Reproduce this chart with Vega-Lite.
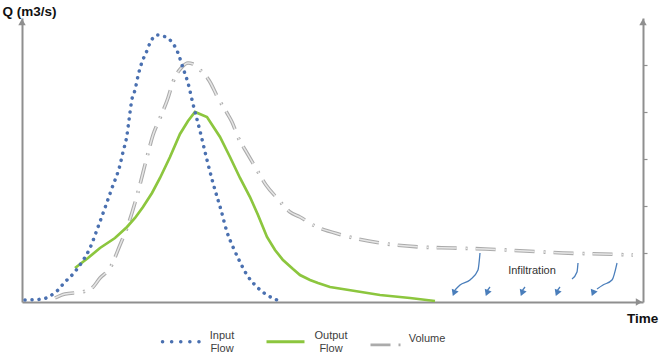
{
  "$schema": "https://vega.github.io/schema/vega-lite/v6.json",
  "width": 621,
  "height": 284,
  "autosize": {"type": "none"},
  "padding": {"left": 22, "top": 18, "right": 22, "bottom": 59},
  "background": "white",
  "config": {
    "view": {"stroke": null},
    "font": "Liberation Sans",
    "axis": {"grid": false, "ticks": false, "labels": false, "domainColor": "#8f8f8f", "domainWidth": 2},
    "axisX": {"titleX": 620, "titleY": 16, "titleAlign": "center", "titleBaseline": "middle", "titleFontSize": 13.5, "titleFontWeight": "bold", "titleColor": "#111111", "titleFont": "Liberation Sans"}
  },
  "datasets": {
    "curves": [
      {"s": "Input Flow", "t": 3, "q": 2},
      {"s": "Input Flow", "t": 21, "q": 3},
      {"s": "Input Flow", "t": 28, "q": 6},
      {"s": "Input Flow", "t": 35, "q": 11},
      {"s": "Input Flow", "t": 43, "q": 20},
      {"s": "Input Flow", "t": 51, "q": 28},
      {"s": "Input Flow", "t": 60, "q": 40},
      {"s": "Input Flow", "t": 68, "q": 54},
      {"s": "Input Flow", "t": 76, "q": 75},
      {"s": "Input Flow", "t": 84, "q": 97},
      {"s": "Input Flow", "t": 90, "q": 114},
      {"s": "Input Flow", "t": 98, "q": 137},
      {"s": "Input Flow", "t": 101, "q": 150},
      {"s": "Input Flow", "t": 105, "q": 167},
      {"s": "Input Flow", "t": 107, "q": 182},
      {"s": "Input Flow", "t": 110, "q": 203},
      {"s": "Input Flow", "t": 113, "q": 212},
      {"s": "Input Flow", "t": 116, "q": 226},
      {"s": "Input Flow", "t": 120, "q": 240},
      {"s": "Input Flow", "t": 124, "q": 249},
      {"s": "Input Flow", "t": 128, "q": 259},
      {"s": "Input Flow", "t": 135, "q": 267},
      {"s": "Input Flow", "t": 141, "q": 266},
      {"s": "Input Flow", "t": 148, "q": 262},
      {"s": "Input Flow", "t": 156, "q": 249},
      {"s": "Input Flow", "t": 161, "q": 234},
      {"s": "Input Flow", "t": 166, "q": 219},
      {"s": "Input Flow", "t": 171, "q": 198},
      {"s": "Input Flow", "t": 178, "q": 171},
      {"s": "Input Flow", "t": 185, "q": 142},
      {"s": "Input Flow", "t": 191, "q": 119},
      {"s": "Input Flow", "t": 199, "q": 92},
      {"s": "Input Flow", "t": 205, "q": 70},
      {"s": "Input Flow", "t": 211, "q": 55},
      {"s": "Input Flow", "t": 218, "q": 40},
      {"s": "Input Flow", "t": 225, "q": 27},
      {"s": "Input Flow", "t": 235, "q": 15},
      {"s": "Input Flow", "t": 245, "q": 7},
      {"s": "Input Flow", "t": 255, "q": 2},
      {"s": "Output Flow", "t": 53, "q": 34},
      {"s": "Output Flow", "t": 66, "q": 44},
      {"s": "Output Flow", "t": 78, "q": 54},
      {"s": "Output Flow", "t": 93, "q": 64},
      {"s": "Output Flow", "t": 105, "q": 75},
      {"s": "Output Flow", "t": 113, "q": 84},
      {"s": "Output Flow", "t": 121, "q": 95},
      {"s": "Output Flow", "t": 130, "q": 109},
      {"s": "Output Flow", "t": 138, "q": 124},
      {"s": "Output Flow", "t": 148, "q": 145},
      {"s": "Output Flow", "t": 158, "q": 168},
      {"s": "Output Flow", "t": 166, "q": 181},
      {"s": "Output Flow", "t": 173, "q": 190},
      {"s": "Output Flow", "t": 185, "q": 185},
      {"s": "Output Flow", "t": 198, "q": 165},
      {"s": "Output Flow", "t": 208, "q": 145},
      {"s": "Output Flow", "t": 218, "q": 124},
      {"s": "Output Flow", "t": 228, "q": 105},
      {"s": "Output Flow", "t": 236, "q": 87},
      {"s": "Output Flow", "t": 245, "q": 65},
      {"s": "Output Flow", "t": 253, "q": 52},
      {"s": "Output Flow", "t": 261, "q": 42},
      {"s": "Output Flow", "t": 271, "q": 33},
      {"s": "Output Flow", "t": 278, "q": 27},
      {"s": "Output Flow", "t": 288, "q": 22},
      {"s": "Output Flow", "t": 296, "q": 19},
      {"s": "Output Flow", "t": 308, "q": 15},
      {"s": "Output Flow", "t": 333, "q": 11},
      {"s": "Output Flow", "t": 358, "q": 7},
      {"s": "Output Flow", "t": 388, "q": 4},
      {"s": "Output Flow", "t": 413, "q": 1},
      {"s": "Volume", "t": 33, "q": 4},
      {"s": "Volume", "t": 43, "q": 8},
      {"s": "Volume", "t": 60, "q": 10},
      {"s": "Volume", "t": 70, "q": 14},
      {"s": "Volume", "t": 78, "q": 24},
      {"s": "Volume", "t": 88, "q": 34},
      {"s": "Volume", "t": 98, "q": 57},
      {"s": "Volume", "t": 106, "q": 77},
      {"s": "Volume", "t": 116, "q": 110},
      {"s": "Volume", "t": 125, "q": 145},
      {"s": "Volume", "t": 131, "q": 167},
      {"s": "Volume", "t": 138, "q": 184},
      {"s": "Volume", "t": 146, "q": 204},
      {"s": "Volume", "t": 151, "q": 220},
      {"s": "Volume", "t": 160, "q": 235},
      {"s": "Volume", "t": 166, "q": 239},
      {"s": "Volume", "t": 171, "q": 238},
      {"s": "Volume", "t": 176, "q": 234},
      {"s": "Volume", "t": 188, "q": 220},
      {"s": "Volume", "t": 196, "q": 204},
      {"s": "Volume", "t": 205, "q": 189},
      {"s": "Volume", "t": 210, "q": 180},
      {"s": "Volume", "t": 216, "q": 165},
      {"s": "Volume", "t": 225, "q": 149},
      {"s": "Volume", "t": 235, "q": 132},
      {"s": "Volume", "t": 244, "q": 117},
      {"s": "Volume", "t": 255, "q": 104},
      {"s": "Volume", "t": 268, "q": 90},
      {"s": "Volume", "t": 278, "q": 85},
      {"s": "Volume", "t": 291, "q": 77},
      {"s": "Volume", "t": 320, "q": 67},
      {"s": "Volume", "t": 358, "q": 59},
      {"s": "Volume", "t": 398, "q": 55},
      {"s": "Volume", "t": 431, "q": 54},
      {"s": "Volume", "t": 463, "q": 53},
      {"s": "Volume", "t": 503, "q": 51},
      {"s": "Volume", "t": 541, "q": 49},
      {"s": "Volume", "t": 580, "q": 48},
      {"s": "Volume", "t": 611, "q": 47}
    ],
    "arrows": [
      {"a": 1, "t": 458, "q": 49},
      {"a": 1, "t": 456, "q": 32},
      {"a": 1, "t": 448, "q": 22},
      {"a": 1, "t": 438, "q": 17},
      {"a": 1, "t": 433, "q": 12},
      {"a": 2, "t": 468, "q": 15},
      {"a": 2, "t": 465, "q": 11},
      {"a": 3, "t": 503, "q": 15},
      {"a": 3, "t": 500, "q": 11},
      {"a": 4, "t": 538, "q": 15},
      {"a": 4, "t": 535, "q": 11},
      {"a": 5, "t": 595, "q": 39},
      {"a": 5, "t": 590, "q": 22},
      {"a": 5, "t": 581, "q": 17},
      {"a": 5, "t": 575, "q": 13},
      {"a": 6, "t": 556, "q": 39},
      {"a": 6, "t": 555, "q": 30},
      {"a": 6, "t": 550, "q": 23}
    ],
    "heads": [
      {"t": 432, "q": 9},
      {"t": 465, "q": 9},
      {"t": 500, "q": 9},
      {"t": 535, "q": 9},
      {"t": 571, "q": 9}
    ],
    "axisUp": [
      {"t": 0, "q": 280},
      {"t": 621, "q": 280}
    ],
    "axisRight": [
      {"t": 617, "q": 0}
    ],
    "notes": [
      {"t": 510, "q": 31, "label": "Infiltration"}
    ]
  },
  "layer": [
    {
      "data": {"name": "curves"},
      "transform": [{"filter": "datum.s === 'Volume'"}],
      "mark": {"type": "line", "strokeWidth": 3.6, "strokeDash": [20, 9, 2, 8], "interpolate": "monotone"},
      "encoding": {
        "x": {"field": "t", "type": "quantitative", "title": "Time", "scale": {"domain": [0, 621], "nice": false, "zero": false}},
        "y": {"field": "q", "type": "quantitative", "scale": {"domain": [0, 284], "nice": false, "zero": false}, "axis": {"title": "Q (m3/s)", "titleAngle": 0, "titleX": -20, "titleY": -7, "titleAlign": "left", "titleBaseline": "middle", "titleFontSize": 13.5, "titleFontWeight": "bold", "titleColor": "#111111", "titleFont": "Liberation Sans"}},
        "color": {
          "field": "s", "type": "nominal",
          "scale": {"domain": ["Input Flow", "Output Flow", "Volume"], "range": ["#4a70b0", "#8cc63e", "#ababab"]},
          "legend": {
            "title": null, "orient": "none", "legendX": 154, "legendY": 318, "direction": "horizontal",
            "symbolType": "stroke", "symbolSize": 1444, "symbolStrokeWidth": 3,
            "labelFont": "Liberation Sans", "labelFontSize": 11, "labelColor": "#404040", "labelOffset": 20,
            "labelAlign": "center",
            "columnPadding": 16, "gridAlign": "all",
            "labelExpr": "datum.label === 'Input Flow' ? ['Input', 'Flow'] : datum.label === 'Output Flow' ? ['Output', 'Flow'] : datum.label",
            "encode": {
              "symbols": {"update": {
                "strokeDash": {"signal": "datum.value === 'Input Flow' ? [0.1, 9] : datum.value === 'Volume' ? [20, 8, 2, 8] : [1, 0]"},
                "strokeCap": {"signal": "datum.value === 'Input Flow' ? 'round' : 'butt'"},
                "strokeWidth": {"signal": "datum.value === 'Input Flow' ? 3.5 : 2.8"}
              }},
              "labels": {"update": {
                "lineHeight": {"value": 13},
                "dy": {"value": -6},
                "dx": {"signal": "datum.value === 'Input Flow' ? 15 : datum.value === 'Output Flow' ? 20 : 12"}
              }}
            }
          }
        }
      }
    },
    {
      "data": {"name": "curves"},
      "transform": [{"filter": "datum.s === 'Volume'"}],
      "mark": {"type": "line", "strokeWidth": 1.5, "strokeDash": [20, 9, 2, 8], "interpolate": "monotone", "color": "#e6e6e6"},
      "encoding": {
        "x": {"field": "t", "type": "quantitative", "title": "Time"},
        "y": {"field": "q", "type": "quantitative", "axis": null}
      }
    },
    {
      "data": {"name": "curves"},
      "transform": [{"filter": "datum.s === 'Output Flow'"}],
      "mark": {"type": "line", "strokeWidth": 2.7},
      "encoding": {
        "x": {"field": "t", "type": "quantitative", "title": "Time"},
        "y": {"field": "q", "type": "quantitative", "axis": null},
        "color": {"field": "s", "type": "nominal"}
      }
    },
    {
      "data": {"name": "curves"},
      "transform": [{"filter": "datum.s === 'Input Flow'"}],
      "mark": {"type": "line", "strokeWidth": 3.5, "strokeDash": [0.1, 6.9], "strokeCap": "round", "interpolate": "monotone"},
      "encoding": {
        "x": {"field": "t", "type": "quantitative", "title": "Time"},
        "y": {"field": "q", "type": "quantitative", "axis": null},
        "color": {"field": "s", "type": "nominal"}
      }
    },
    {
      "data": {"name": "arrows"},
      "mark": {"type": "line", "strokeWidth": 1.3, "color": "#4a7ebb", "interpolate": "monotone"},
      "encoding": {
        "x": {"field": "t", "type": "quantitative", "title": "Time"},
        "y": {"field": "q", "type": "quantitative", "axis": null},
        "detail": {"field": "a", "type": "nominal"}
      }
    },
    {
      "data": {"name": "heads"},
      "mark": {"type": "point", "shape": "triangle-down", "filled": true, "size": 55, "angle": 22, "color": "#4a7ebb", "opacity": 1},
      "encoding": {
        "x": {"field": "t", "type": "quantitative", "title": "Time"},
        "y": {"field": "q", "type": "quantitative", "axis": null}
      }
    },
    {
      "data": {"name": "axisUp"},
      "mark": {"type": "point", "shape": "triangle-up", "filled": true, "size": 55, "color": "#8f8f8f", "opacity": 1},
      "encoding": {
        "x": {"field": "t", "type": "quantitative", "title": "Time"},
        "y": {"field": "q", "type": "quantitative", "axis": {"orient": "right", "title": null, "ticks": true, "values": [49, 96, 143, 190, 237], "tickSize": 4, "tickColor": "#8f8f8f", "tickWidth": 1.2, "labels": false}}
      }
    },
    {
      "data": {"name": "axisRight"},
      "mark": {"type": "point", "shape": "triangle-right", "filled": true, "size": 55, "color": "#8f8f8f", "opacity": 1},
      "encoding": {
        "x": {"field": "t", "type": "quantitative", "title": "Time"},
        "y": {"field": "q", "type": "quantitative", "axis": null}
      }
    },
    {
      "data": {"name": "notes"},
      "mark": {"type": "text", "font": "Liberation Sans", "fontSize": 11, "color": "#333333", "align": "center", "baseline": "middle"},
      "encoding": {
        "x": {"field": "t", "type": "quantitative", "title": "Time"},
        "y": {"field": "q", "type": "quantitative", "axis": null},
        "text": {"field": "label"}
      }
    }
  ],
  "resolve": {"axis": {"y": "independent"}}
}
